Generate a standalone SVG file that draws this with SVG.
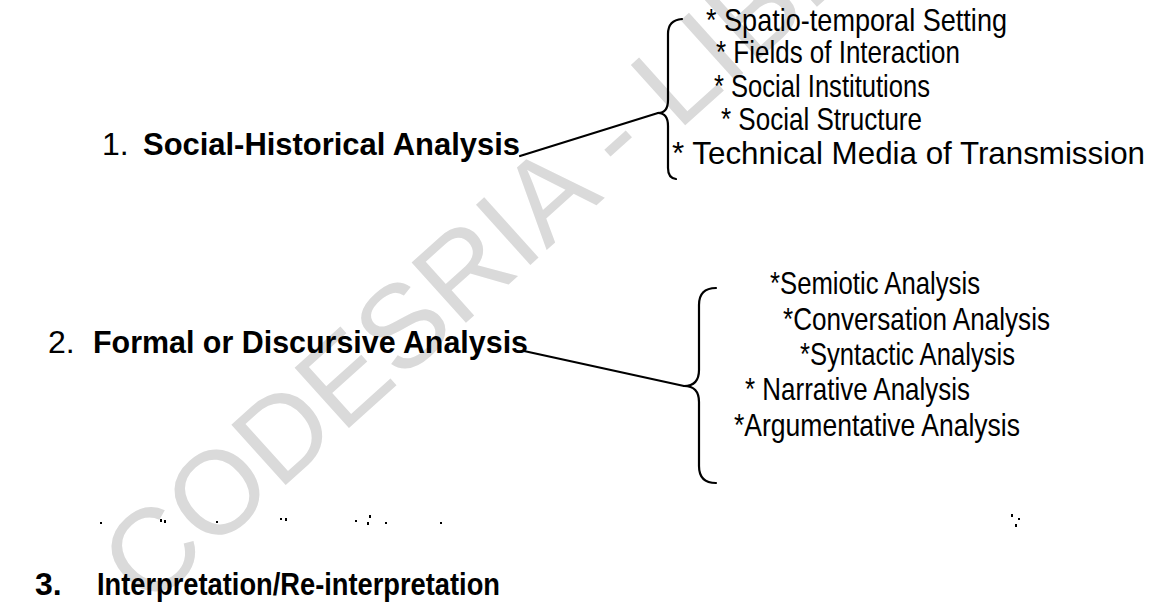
<svg xmlns="http://www.w3.org/2000/svg" width="1152" height="609" viewBox="0 0 1152 609">
<style>
  text { font-family: "Liberation Sans", Arial, sans-serif; fill: #000; }
  .lbl { font-size: 32px; font-weight: bold; }
  .num { font-size: 32px; }
  .item { font-size: 32px; }
  .wm { font-size: 118px; fill: #dadada; }
  .br { fill: none; stroke: #000; stroke-width: 2.2; stroke-linecap: round; stroke-linejoin: round; }
  .conn { fill: none; stroke: #000; stroke-width: 2.2; stroke-linecap: round; }
  .speck { fill: #000; }
</style>
<rect width="1152" height="609" fill="#fff"/>
<g id="watermark">
  <text class="wm" transform="translate(147,610) rotate(-42)">CODESRIA - LIBRARY</text>
</g>
<g id="connectors">
  <path class="conn" d="M520,156 L658,113"/>
  <path class="conn" d="M524,351 L684,386"/>
</g>
<g id="node1">
  <text class="num" x="102" y="155">1.</text>
  <text class="lbl" x="143" y="155" textLength="377" lengthAdjust="spacingAndGlyphs">Social-Historical Analysis</text>
</g>
<g id="brace1">
  <path class="br" d="M682,19 Q668,20 668,34 L668,100 Q668,113 658,113 Q668,113 668,126 L668,168 Q668,178 676,179"/>
</g>
<g id="list1">
  <text class="item" x="706" y="31" textLength="301" lengthAdjust="spacingAndGlyphs">* Spatio-temporal Setting</text>
  <text class="item" x="716" y="63" textLength="244" lengthAdjust="spacingAndGlyphs">* Fields of Interaction</text>
  <text class="item" x="714" y="97" textLength="216" lengthAdjust="spacingAndGlyphs">* Social Institutions</text>
  <text class="item" x="721" y="130" textLength="201" lengthAdjust="spacingAndGlyphs">* Social Structure</text>
  <text class="item" x="672" y="164" textLength="473" lengthAdjust="spacingAndGlyphs">* Technical Media of Transmission</text>
</g>
<g id="node2">
  <text class="num" x="48" y="353">2.</text>
  <text class="lbl" x="93" y="353" textLength="435" lengthAdjust="spacingAndGlyphs">Formal or Discursive Analysis</text>
</g>
<g id="brace2">
  <path class="br" d="M716,288 Q699,288 699,305 L699,370 Q699,386 684,386 Q699,386 699,402 L699,466 Q699,483 716,483"/>
</g>
<g id="list2">
  <text class="item" x="770" y="294" textLength="210" lengthAdjust="spacingAndGlyphs">*Semiotic Analysis</text>
  <text class="item" x="783" y="330" textLength="267" lengthAdjust="spacingAndGlyphs">*Conversation Analysis</text>
  <text class="item" x="800" y="365" textLength="215" lengthAdjust="spacingAndGlyphs">*Syntactic Analysis</text>
  <text class="item" x="745" y="400" textLength="225" lengthAdjust="spacingAndGlyphs">* Narrative Analysis</text>
  <text class="item" x="734" y="436" textLength="286" lengthAdjust="spacingAndGlyphs">*Argumentative Analysis</text>
</g>
<g id="node3">
  <text class="lbl" x="35" y="595">3.</text>
  <text class="lbl" x="97" y="595" textLength="403" lengthAdjust="spacingAndGlyphs">Interpretation/Re-interpretation</text>
</g>
<g id="specks">
  <rect class="speck" x="100" y="522" width="2" height="2"/>
  <rect class="speck" x="160" y="519" width="2" height="3"/>
  <rect class="speck" x="164" y="520" width="2" height="3"/>
  <rect class="speck" x="216" y="521" width="2" height="2"/>
  <rect class="speck" x="280" y="518" width="2" height="2"/>
  <rect class="speck" x="285" y="518" width="2" height="3"/>
  <rect class="speck" x="355" y="520" width="2" height="2"/>
  <rect class="speck" x="369" y="515" width="2" height="3"/>
  <rect class="speck" x="367" y="522" width="2" height="3"/>
  <rect class="speck" x="385" y="522" width="2" height="2"/>
  <rect class="speck" x="440" y="522" width="2" height="2"/>
  <rect class="speck" x="1011" y="514" width="2" height="3"/>
  <rect class="speck" x="1018" y="518" width="2" height="2"/>
  <rect class="speck" x="1015" y="524" width="2" height="3"/>
</g>
</svg>
